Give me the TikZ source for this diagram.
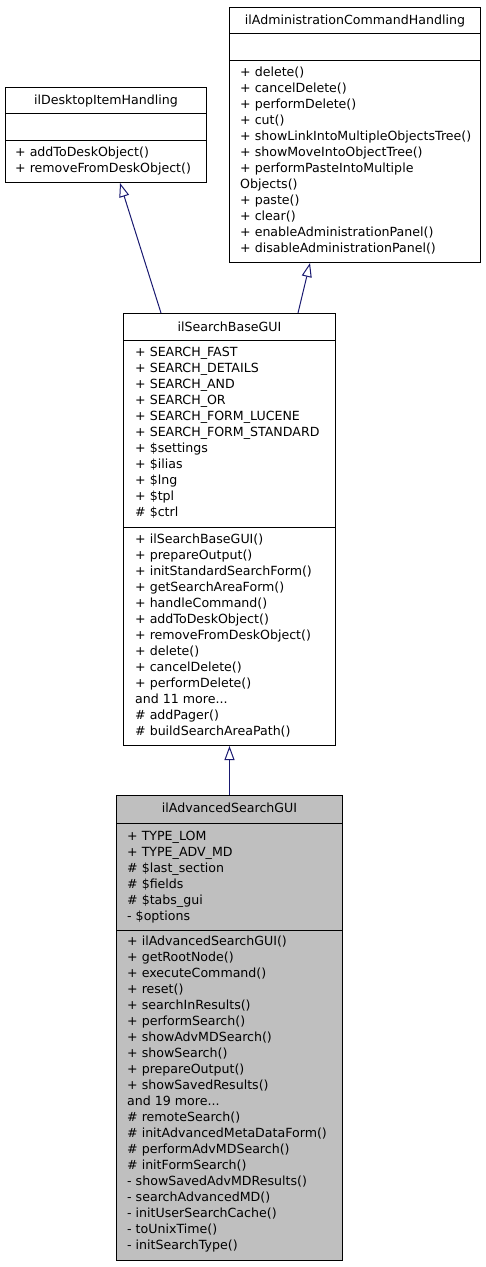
\documentclass[tikz,border=0pt]{standalone}
\usepackage{fontspec}
\setmainfont{DejaVu Sans}
\usetikzlibrary{arrows.meta,calc}
\definecolor{edgeblue}{HTML}{191970}
\definecolor{boxgray}{HTML}{BFBFBF}
\begin{document}
\begin{tikzpicture}[x=1pt,y=-1pt,
  cls/.style={draw=black, line width=1pt, fill=white, inner sep=0pt, rectangle, anchor=north west},
  txt/.style={font=\fontsize{12.6}{16}\selectfont, inner sep=0pt, anchor=base west, align=left},
  ttl/.style={font=\fontsize{12.6}{16}\selectfont, inner sep=0pt, anchor=base},
  sepline/.style={draw=black, line width=1pt},
  inh/.style={draw=edgeblue, line width=1pt, -{Triangle[open, length=14pt, width=10pt]}}]
\useasboundingbox (0,0) rectangle (485,1267);

% ilDesktopItemHandling
\node[cls, minimum width=201pt, minimum height=95pt] (A) at (5,87) {};
\draw[sepline] ($(A.north west)+(0,26)$) -- ($(A.north east)+(0,26)$);
\draw[sepline] ($(A.north west)+(0,53)$) -- ($(A.north east)+(0,53)$);
\node[ttl] (At) at ($(A.north)+(0,17)$) {ilDesktopItemHandling};
\node[txt] (Am) at ($(A.north west)+(10,85)$) {+ addToDeskObject()\\+ removeFromDeskObject()};

% ilAdministrationCommandHandling
\node[cls, minimum width=251pt, minimum height=255pt] (B) at (229,7) {};
\draw[sepline] ($(B.north west)+(0,26)$) -- ($(B.north east)+(0,26)$);
\draw[sepline] ($(B.north west)+(0,53)$) -- ($(B.north east)+(0,53)$);
\node[ttl] (Bt) at ($(B.north)+(0,17)$) {ilAdministrationCommandHandling};
\node[txt] (Bm) at ($(B.north west)+(11,245)$) {+ delete()\\+ cancelDelete()\\+ performDelete()\\+ cut()\\+ showLinkIntoMultipleObjectsTree()\\+ showMoveIntoObjectTree()\\+ performPasteIntoMultiple\\Objects()\\+ paste()\\+ clear()\\+ enableAdministrationPanel()\\+ disableAdministrationPanel()};

% ilSearchBaseGUI
\node[cls, minimum width=212pt, minimum height=432pt] (C) at (123,313) {};
\draw[sepline] ($(C.north west)+(0,27)$) -- ($(C.north east)+(0,27)$);
\draw[sepline] ($(C.north west)+(0,214)$) -- ($(C.north east)+(0,214)$);
\node[ttl] (Ct) at ($(C.north)+(0,18)$) {ilSearchBaseGUI};
\node[txt] (Ca) at ($(C.north west)+(12,203)$) {+ SEARCH\_FAST\\+ SEARCH\_DETAILS\\+ SEARCH\_AND\\+ SEARCH\_OR\\+ SEARCH\_FORM\_LUCENE\\+ SEARCH\_FORM\_STANDARD\\+ \$settings\\+ \$ilias\\+ \$lng\\+ \$tpl\\\# \$ctrl};
\node[txt] (Cm) at ($(C.north west)+(12,422)$) {+ ilSearchBaseGUI()\\+ prepareOutput()\\+ initStandardSearchForm()\\+ getSearchAreaForm()\\+ handleCommand()\\+ addToDeskObject()\\+ removeFromDeskObject()\\+ delete()\\+ cancelDelete()\\+ performDelete()\\and 11 more...\\\# addPager()\\\# buildSearchAreaPath()};

% ilAdvancedSearchGUI
\node[cls, fill=boxgray, minimum width=226pt, minimum height=465pt] (D) at (116,795) {};
\draw[sepline] ($(D.north west)+(0,28)$) -- ($(D.north east)+(0,28)$);
\draw[sepline] ($(D.north west)+(0,135)$) -- ($(D.north east)+(0,135)$);
\node[ttl] (Dt) at ($(D.north)+(0,17)$) {ilAdvancedSearchGUI};
\node[txt] (Da) at ($(D.north west)+(11,125)$) {+ TYPE\_LOM\\+ TYPE\_ADV\_MD\\\# \$last\_section\\\# \$fields\\\# \$tabs\_gui\\- \$options};
\node[txt] (Dm) at ($(D.north west)+(11,454)$) {+ ilAdvancedSearchGUI()\\+ getRootNode()\\+ executeCommand()\\+ reset()\\+ searchInResults()\\+ performSearch()\\+ showAdvMDSearch()\\+ showSearch()\\+ prepareOutput()\\+ showSavedResults()\\and 19 more...\\\# remoteSearch()\\\# initAdvancedMetaDataForm()\\\# performAdvMDSearch()\\\# initFormSearch()\\- showSavedAdvMDResults()\\- searchAdvancedMD()\\- initUserSearchCache()\\- toUnixTime()\\- initSearchType()};

% inheritance
\draw[inh] ($(C.north west)+(38,0)$) -- ($(A.south west)+(115,0)$);
\draw[inh] ($(C.north west)+(175,0)$) -- ($(B.south west)+(81,0)$);
\draw[inh] (D.north) -- (C.south);
\end{tikzpicture}
\end{document}
